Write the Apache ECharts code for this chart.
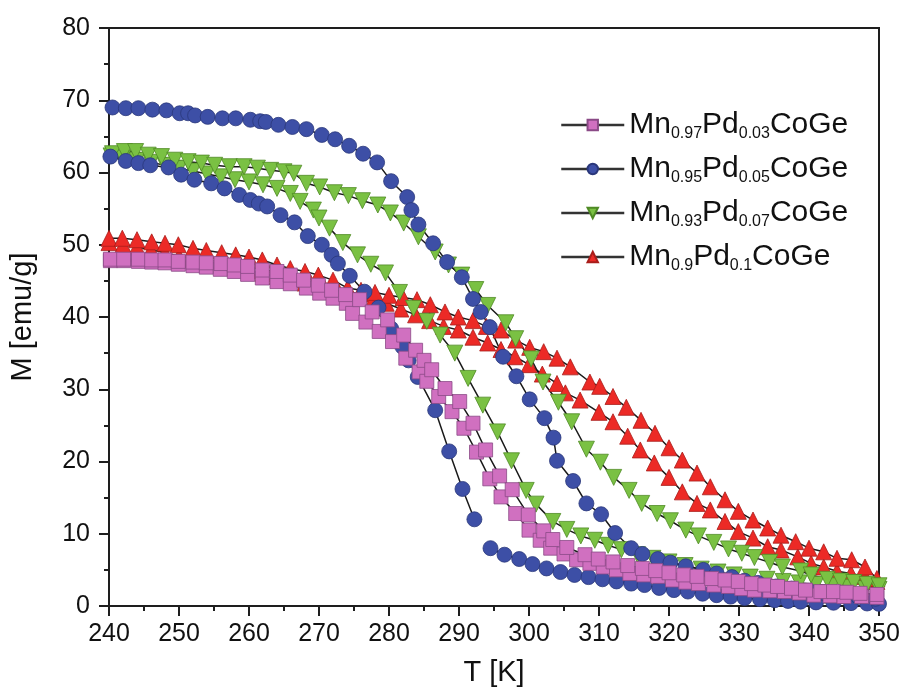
<!DOCTYPE html>
<html><head><meta charset="utf-8">
<script src="https://cdn.jsdelivr.net/npm/echarts@6/dist/echarts.min.js"></script>
<style>html,body{margin:0;padding:0;background:#fff}#c{width:905px;height:693px}</style>
</head><body><div id="c"></div>
<script>
// ---------- data (T [K], M [emu/g]) ----------
const NAME_PD03 = 'Mn0.97Pd0.03CoGe';
const NAME_PD05 = 'Mn0.95Pd0.05CoGe';
const NAME_PD07 = 'Mn0.93Pd0.07CoGe';
const NAME_PD10 = 'Mn0.9Pd0.1CoGe';
const LEGEND_ORDER = [NAME_PD03, NAME_PD05, NAME_PD07, NAME_PD10];

const pd03Upper = [[240.2,48.0],[242.1,48.0],[244.2,48.0],[246.1,47.9],[248.0,47.9],[249.9,47.7],[252.0,47.6],[253.9,47.5],[256.0,47.4],[257.9,47.2],[259.8,47.0],[261.9,46.5],[264.0,46.3],[265.9,45.8],[267.8,45.1],[269.9,44.4],[271.8,43.7],[273.8,43.1],[275.8,42.4],[277.6,40.7],[279.8,39.6],[282.1,37.5],[283.8,35.4],[285.0,34.0],[286.1,32.7],[288.0,30.1],[290.1,28.3],[292.0,25.3],[293.8,21.6],[295.8,18.0],[297.6,16.1],[299.9,12.6],[302.1,10.4],[303.4,9.2],[305.4,8.1],[308.0,7.1],[309.9,6.5],[312.0,6.1],[314.1,5.6],[316.2,5.2],[318.1,4.9],[320.0,4.6],[322.1,4.3],[324.0,4.1],[326.1,3.8],[328.0,3.6],[329.9,3.4],[331.8,3.1],[333.7,2.9],[335.5,2.7],[337.5,2.45],[339.5,2.2],[341.7,2.0],[343.5,2.0],[345.4,1.9],[347.3,1.75],[349.7,1.6]];
const pd03Lower = [[240.2,47.8],[242.1,47.8],[244.2,47.7],[246.1,47.6],[248.0,47.5],[249.9,47.3],[252.0,47.1],[253.9,46.9],[255.9,46.6],[257.9,46.3],[259.8,45.9],[261.9,45.4],[264.0,44.9],[265.9,44.6],[268.2,44.0],[270.1,43.3],[272.0,42.6],[273.9,41.9],[274.8,40.5],[276.7,39.3],[278.6,38.0],[280.5,36.6],[282.4,34.3],[284.3,32.4],[285.4,31.1],[287.1,29.0],[289.0,26.9],[290.7,24.6],[292.5,21.3],[294.4,17.6],[296.0,15.1],[298.1,12.8],[300.0,10.5],[301.6,9.1],[303.1,8.0],[305.0,7.2],[306.8,6.4],[308.7,5.9],[310.6,5.4],[312.5,5.0],[314.4,4.5],[316.4,4.3],[318.4,4.1],[320.5,3.6],[322.4,3.3],[324.2,3.1],[326.4,2.9],[328.5,2.7],[330.4,2.4],[332.2,2.2],[334.4,2.1],[336.5,2.0],[338.6,1.8],[340.7,1.5],[343.0,1.4],[345.0,1.3],[347.5,1.3],[349.7,1.2]];

const pd05Upper = [[240.5,69.0],[242.4,68.9],[244.2,68.9],[246.2,68.7],[248.2,68.6],[250.1,68.2],[251.3,68.2],[252.3,67.9],[254.1,67.7],[256.2,67.5],[258.1,67.5],[260.2,67.3],[261.6,67.1],[262.4,67.0],[264.2,66.6],[266.2,66.3],[268.2,66.0],[270.4,65.2],[272.3,64.6],[274.3,63.7],[276.3,62.6],[278.3,61.4],[280.3,58.8],[282.6,56.6],[283.2,54.8],[284.2,52.8],[286.3,50.2],[288.3,47.6],[290.4,45.5],[292.0,42.5],[293.1,40.7],[294.4,38.6],[296.3,34.5],[298.2,31.8],[300.1,28.6],[302.2,26.0],[303.5,23.3],[304.0,20.1],[306.3,17.3],[308.2,14.2],[310.3,12.7],[312.3,10.1],[314.6,8.0],[316.2,7.2],[318.4,6.5],[320.2,6.0],[322.4,5.5],[324.9,5.0],[326.8,4.5],[329.0,4.0],[330.8,3.5],[332.7,3.2],[335.3,2.7],[337.5,2.4],[340.0,2.1],[342.0,1.8],[344.5,1.5],[347.0,1.3],[349.5,1.0]];
const pd05LowerA = [[240.2,62.2],[242.4,61.6],[244.2,61.3],[245.9,61.0],[248.5,60.7],[250.3,59.7],[252.2,59.0],[254.6,58.5],[256.5,57.8],[258.6,56.9],[260.2,56.2],[261.4,55.7],[262.6,55.3],[264.5,54.1],[266.5,53.1],[268.4,51.2],[270.4,50.0],[271.8,48.6],[272.7,47.4],[274.4,45.7],[276.5,43.5],[278.5,41.3],[280.3,38.4],[281.9,35.9],[282.8,34.0],[284.1,31.7],[286.6,27.1],[288.6,21.4],[290.5,16.2],[292.2,12.0]];
const pd05LowerB = [[294.5,8.0],[296.5,7.1],[298.6,6.5],[300.5,5.8],[302.5,5.2],[304.5,4.7],[306.5,4.3],[308.5,4.0],[310.5,3.7],[312.5,3.4],[314.6,3.1],[316.5,2.9],[318.6,2.5],[320.7,2.2],[322.7,2.0],[324.8,1.7],[326.8,1.5],[328.8,1.3],[330.8,1.1],[333.0,0.95],[335.1,0.8],[337.0,0.7],[338.8,0.6],[341.0,0.5],[343.5,0.45],[346.0,0.4],[348.3,0.35],[350.0,0.3]];

const pd07Upper = [[240.5,62.6],[242.2,62.9],[243.8,62.9],[245.6,62.4],[247.5,62.2],[249.4,61.7],[251.3,61.5],[253.2,61.3],[255.1,61.0],[257.2,60.8],[259.3,60.8],[261.2,60.6],[263.1,60.3],[265.0,60.1],[266.4,59.9],[268.2,58.5],[270.1,58.0],[272.2,57.2],[274.2,56.8],[276.2,56.1],[278.4,55.5],[280.2,54.4],[282.1,53.0],[284.2,51.1],[286.6,49.0],[288.5,47.2],[290.4,45.8],[292.4,43.8],[294.1,41.6],[296.7,39.2],[298.1,37.0],[300.3,34.2],[302.0,31.0],[304.2,28.2],[306.1,25.5],[308.2,21.7],[310.2,19.9],[312.1,17.8],[314.3,16.0],[316.1,14.2],[318.3,12.8],[320.2,11.8],[322.4,10.5],[324.2,9.7],[326.4,8.8],[328.5,7.9],[330.4,7.3],[332.2,6.7],[334.4,6.05],[336.2,5.4],[338.8,4.85],[340.3,4.3],[342.6,3.7],[344.5,3.45],[346.4,3.25],[348.3,3.0],[350.0,2.8]];
const pd07Lower = [[240.3,62.3],[242.0,62.0],[244.0,61.7],[246.0,61.4],[248.0,61.0],[250.0,60.6],[252.0,60.2],[254.0,59.8],[256.0,59.4],[258.0,59.0],[260.0,58.7],[262.0,58.3],[264.0,57.8],[265.9,57.1],[267.3,56.0],[269.2,54.8],[270.0,53.7],[271.5,52.3],[273.4,50.3],[275.5,48.6],[277.4,47.3],[279.5,46.1],[281.5,43.4],[283.5,41.2],[285.4,39.4],[287.3,37.5],[289.4,35.0],[291.3,31.5],[293.4,27.8],[295.5,24.1],[297.5,20.1],[299.6,16.0],[301.0,14.1],[303.4,11.7],[305.4,10.6],[307.4,9.7],[309.4,9.1],[311.3,8.4],[313.2,7.8],[315.5,7.1],[317.7,6.6],[320.0,6.1],[322.3,5.6],[324.6,5.1],[327.0,4.7],[329.3,4.3],[331.6,4.0],[334.0,3.7],[336.3,3.4],[338.6,3.2],[341.0,3.0],[343.3,2.8],[345.6,2.6],[348.0,2.4],[350.0,2.3]];

const pd10Upper = [[240.0,50.9],[241.9,50.9],[244.0,50.7],[246.1,50.4],[248.0,50.2],[249.9,50.0],[252.0,49.5],[253.9,49.2],[256.1,48.9],[258.1,48.6],[260.0,48.3],[261.9,47.9],[264.0,47.2],[265.9,46.7],[268.0,46.3],[269.9,45.8],[272.0,45.1],[274.1,44.0],[276.0,43.7],[278.0,43.4],[280.0,43.0],[282.0,42.7],[284.0,42.4],[285.9,41.7],[288.0,40.7],[289.9,40.0],[292.0,39.5],[293.9,38.7],[296.0,38.2],[298.1,36.8],[300.1,35.8],[302.1,35.2],[304.0,34.3],[305.9,33.1],[308.7,31.0],[310.1,30.4],[312.0,29.0],[313.9,27.5],[316.0,25.7],[318.0,23.9],[320.0,21.9],[321.9,20.2],[324.0,18.4],[325.9,16.5],[328.0,14.7],[329.9,13.1],[332.0,11.9],[334.1,10.8],[336.0,9.8],[338.1,8.9],[340.0,8.0],[342.1,7.5],[344.0,6.6],[346.1,6.4],[348.0,5.4],[349.7,3.8]];
const pd10Lower = [[240.0,50.3],[242.0,50.0],[244.0,49.7],[246.0,49.3],[248.0,48.9],[250.0,48.4],[252.0,48.0],[254.0,47.6],[256.0,47.2],[258.0,46.8],[260.0,46.4],[262.0,46.0],[264.0,45.6],[266.0,45.2],[268.0,44.7],[270.0,44.2],[272.0,43.8],[273.9,43.5],[275.9,43.2],[277.9,42.7],[279.6,41.9],[281.7,41.1],[283.8,40.3],[285.8,39.5],[287.8,38.7],[289.9,38.2],[292.0,37.2],[294.1,36.4],[296.0,35.5],[298.0,34.5],[300.0,33.4],[301.9,32.1],[304.0,30.8],[305.2,29.5],[307.3,28.5],[310.0,26.8],[312.0,25.5],[314.1,23.5],[315.9,21.6],[317.9,19.8],[320.0,17.8],[321.9,15.8],[324.0,14.2],[325.9,13.3],[328.0,11.7],[329.9,10.3],[332.0,9.4],[334.1,8.2],[336.0,7.75],[338.4,6.8],[340.3,5.9],[342.1,5.4],[344.0,4.8],[346.0,4.5],[348.0,4.1],[349.7,3.4]];

// ---------- styling ----------
const AX = '#1e1e1e';
const TICK_FONT = '"Liberation Sans",Arial,Helvetica,sans-serif';
const LEG_FONT = '"Liberation Sans",Arial,Helvetica,sans-serif';

const STYLE = {};
STYLE[NAME_PD03] = {symbol:'rect', size:14, color:'#d070c0', border:'#8a4a86', rotate:0};
STYLE[NAME_PD05] = {symbol:'circle', size:15, color:'#3d4fa6', border:'#2a377a', rotate:0};
STYLE[NAME_PD07] = {symbol:'triangle', size:16, color:'#7ac143', border:'#4f8a25', rotate:180};
STYLE[NAME_PD10] = {symbol:'triangle', size:16, color:'#ec2a26', border:'#a81d1a', rotate:0};

function mk(name, data) {
  const s = STYLE[name];
  return {
    type:'line', name:name, data:data,
    symbol:s.symbol, symbolSize:s.size, symbolRotate:s.rotate,
    showAllSymbol:true,
    lineStyle:{color:'#1a1a1a', width:1.5},
    itemStyle:{color:s.color, borderColor:s.border, borderWidth:0.8},
    emphasis:{disabled:true},
    animation:false
  };
}

// draw order: red bottom ... pink on top
const series = [
  mk(NAME_PD10, pd10Lower), mk(NAME_PD10, pd10Upper),
  mk(NAME_PD07, pd07Lower), mk(NAME_PD07, pd07Upper),
  mk(NAME_PD05, pd05LowerA), mk(NAME_PD05, pd05LowerB), mk(NAME_PD05, pd05Upper),
  mk(NAME_PD03, pd03Lower), mk(NAME_PD03, pd03Upper)
];

function legendText(name) {
  const m = name.match(/^Mn([\d.]+)Pd([\d.]+)CoGe$/);
  return '{m|Mn}{s|' + m[1] + '}{m|Pd}{s|' + m[2] + '}{m|CoGe}';
}

const chart = echarts.init(document.getElementById('c'), null, {renderer:'canvas'});
chart.setOption({
  backgroundColor:'#fff',
  animation:false,
  grid:{left:100, right:26, top:28, bottom:87, show:true, borderColor:AX, borderWidth:2, backgroundColor:'transparent'},
  legend:{
    data:LEGEND_ORDER, orient:'vertical', left:555, top:105,
    itemWidth:63, itemHeight:13, itemGap:12,
    lineStyle:{width:2.5, color:'#333'},
    formatter:legendText,
    textStyle:{
      rich:{
        m:{fontFamily:LEG_FONT, fontSize:30, color:'#111', lineHeight:34},
        s:{fontFamily:LEG_FONT, fontSize:16, color:'#111', lineHeight:18, verticalAlign:'bottom'}
      }
    }
  },
  xAxis:{
    type:'value', min:240, max:350, interval:10,
    name:'T [K]', nameLocation:'middle', nameGap:52,
    nameTextStyle:{fontFamily:TICK_FONT, fontSize:29, color:'#111'},
    axisLine:{show:true, onZero:false, lineStyle:{color:AX, width:2}},
    axisTick:{show:true, inside:false, length:10, lineStyle:{color:AX, width:2}},
    minorTick:{show:true, splitNumber:2, length:5, lineStyle:{color:AX, width:2}},
    axisLabel:{fontFamily:TICK_FONT, fontSize:25, color:'#111', margin:16},
    splitLine:{show:false}
  },
  yAxis:{
    type:'value', min:0, max:80, interval:10,
    name:'M [emu/g]', nameLocation:'middle', nameGap:72, nameRotate:90,
    nameTextStyle:{fontFamily:TICK_FONT, fontSize:29, color:'#111'},
    axisLine:{show:true, onZero:false, lineStyle:{color:AX, width:2}},
    axisTick:{show:true, inside:false, length:10, lineStyle:{color:AX, width:2}},
    minorTick:{show:true, splitNumber:2, length:5, lineStyle:{color:AX, width:2}},
    axisLabel:{fontFamily:TICK_FONT, fontSize:25, color:'#111', margin:19},
    splitLine:{show:false}
  },
  series:series
});
</script></body></html>
